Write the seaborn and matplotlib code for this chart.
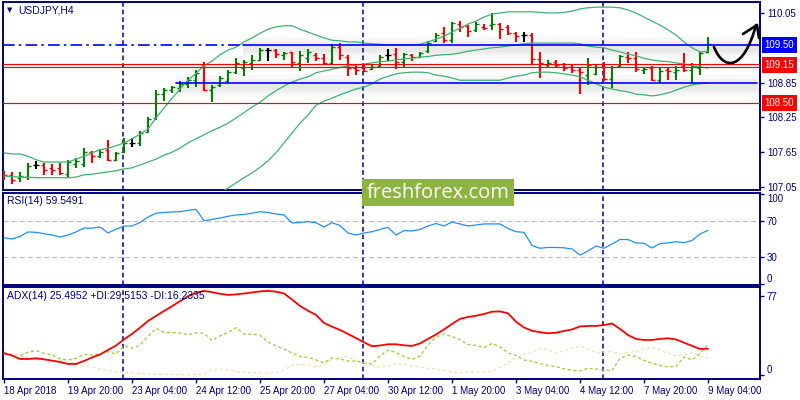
import numpy as np
import pandas as pd
import seaborn as sns
import matplotlib.pyplot as plt
from matplotlib.path import Path
from matplotlib.patches import PathPatch, Rectangle
from matplotlib.transforms import Affine2D

sns.set_style("white")
plt.rcParams["font.family"] = ["Liberation Sans", "DejaVu Sans"]

NAVY = "#000080"

# H4 bars, weekend hours skipped
times = pd.date_range("2018-04-18 12:00", "2018-05-09 04:00", freq="4h")
times = times[times.dayofweek < 5]

open_ = [107.31, 107.26, 107.21, 107.22, 107.43, 107.43, 107.38, 107.38, 107.27, 107.45,
         107.45, 107.65, 107.58, 107.69, 107.52, 107.65, 107.81, 107.81, 108.00, 108.24,
         108.65, 108.72, 108.76, 108.83, 108.89, 109.15, 108.72, 108.81, 108.88, 109.03,
         109.10, 109.19, 109.24, 109.41, 109.41, 109.33, 109.38, 109.19, 109.27, 109.33,
         109.27, 109.19, 109.46, 109.29, 109.10, 109.10, 109.08, 109.14, 109.33, 109.34,
         109.21, 109.33, 109.29, 109.39, 109.57, 109.70, 109.58, 109.86, 109.83, 109.76,
         109.81, 109.84, 109.86, 109.81, 109.70, 109.67, 109.67, 109.26, 109.15, 109.21,
         109.17, 109.12, 109.07, 108.98, 109.00, 109.12, 108.91, 109.14, 109.29, 109.27,
         109.07, 109.10, 108.89, 109.07, 109.03, 109.14, 109.07, 109.10, 109.38]
high = [107.33, 107.31, 107.31, 107.46, 107.50, 107.46, 107.45, 107.46, 107.52, 107.55,
        107.72, 107.67, 107.71, 107.86, 107.65, 107.89, 107.89, 108.02, 108.26, 108.72,
        108.76, 108.79, 108.88, 108.95, 109.07, 109.21, 108.81, 108.96, 109.07, 109.27,
        109.24, 109.33, 109.45, 109.45, 109.43, 109.38, 109.38, 109.39, 109.43, 109.36,
        109.34, 109.52, 109.53, 109.33, 109.15, 109.15, 109.15, 109.33, 109.43, 109.45,
        109.36, 109.34, 109.38, 109.57, 109.70, 109.81, 109.89, 109.91, 109.84, 109.89,
        109.86, 110.05, 109.88, 109.84, 109.72, 109.72, 109.70, 109.38, 109.24, 109.24,
        109.19, 109.15, 109.12, 109.27, 109.15, 109.21, 109.14, 109.33, 109.38, 109.38,
        109.12, 109.14, 109.10, 109.10, 109.14, 109.36, 109.19, 109.38, 109.64]
low = [107.17, 107.10, 107.14, 107.17, 107.36, 107.26, 107.26, 107.26, 107.22, 107.38,
       107.40, 107.46, 107.55, 107.50, 107.50, 107.64, 107.74, 107.76, 108.00, 108.21,
       108.53, 108.67, 108.69, 108.76, 108.77, 108.71, 108.51, 108.77, 108.84, 109.00,
       108.96, 109.07, 109.22, 109.22, 109.27, 109.24, 109.10, 109.05, 109.19, 109.22,
       109.15, 109.15, 109.24, 108.96, 108.98, 109.03, 109.07, 109.12, 109.22, 109.08,
       109.12, 109.22, 109.29, 109.36, 109.55, 109.53, 109.53, 109.72, 109.64, 109.72,
       109.76, 109.76, 109.60, 109.67, 109.55, 109.55, 109.15, 108.93, 109.10, 109.10,
       109.05, 109.02, 108.65, 108.81, 108.98, 108.88, 108.76, 109.12, 109.19, 109.03,
       109.00, 108.88, 108.84, 108.89, 108.89, 109.03, 108.84, 108.98, 109.36]
close = [107.26, 107.17, 107.24, 107.41, 107.43, 107.34, 107.34, 107.29, 107.48, 107.50,
         107.65, 107.58, 107.65, 107.52, 107.64, 107.81, 107.81, 107.98, 108.22, 108.65,
         108.72, 108.77, 108.83, 108.89, 109.02, 108.72, 108.77, 108.93, 109.03, 109.19,
         109.21, 109.24, 109.41, 109.41, 109.34, 109.36, 109.21, 109.33, 109.38, 109.27,
         109.19, 109.46, 109.33, 109.10, 109.07, 109.05, 109.12, 109.29, 109.33, 109.21,
         109.34, 109.29, 109.36, 109.53, 109.67, 109.58, 109.88, 109.81, 109.74, 109.86,
         109.79, 109.86, 109.77, 109.70, 109.65, 109.67, 109.26, 109.19, 109.19, 109.15,
         109.10, 109.07, 109.03, 109.15, 109.12, 108.91, 109.12, 109.31, 109.27, 109.08,
         109.08, 108.89, 109.05, 109.05, 109.07, 109.07, 109.14, 109.36, 109.52]

bb_upper = [107.64, 107.62, 107.62, 107.58, 107.52, 107.48, 107.48, 107.48, 107.48, 107.53,
            107.58, 107.64, 107.69, 107.72, 107.76, 107.81, 107.88, 107.96, 108.05, 108.24,
            108.41, 108.58, 108.74, 108.89, 109.01, 109.14, 109.22, 109.33, 109.41, 109.46,
            109.55, 109.62, 109.70, 109.77, 109.81, 109.83, 109.83, 109.77, 109.72, 109.67,
            109.62, 109.58, 109.57, 109.55, 109.55, 109.53, 109.52, 109.51, 109.50, 109.50,
            109.50, 109.50, 109.51, 109.55, 109.60, 109.65, 109.72, 109.79, 109.86, 109.91,
            109.98, 110.03, 110.05, 110.07, 110.07, 110.07, 110.07, 110.06, 110.05, 110.05,
            110.06, 110.08, 110.12, 110.14, 110.15, 110.15, 110.15, 110.14, 110.10, 110.05,
            109.98, 109.91, 109.84, 109.76, 109.67, 109.55, 109.45, 109.38, 109.39]
bb_middle = [107.24, 107.23, 107.22, 107.22, 107.21, 107.21, 107.21, 107.21, 107.21, 107.22,
             107.26, 107.27, 107.29, 107.31, 107.33, 107.36, 107.38, 107.43, 107.48, 107.53,
             107.60, 107.65, 107.72, 107.81, 107.88, 107.95, 108.02, 108.08, 108.15, 108.24,
             108.33, 108.43, 108.51, 108.62, 108.71, 108.79, 108.86, 108.91, 108.95, 109.02,
             109.05, 109.08, 109.11, 109.14, 109.15, 109.17, 109.19, 109.21, 109.22, 109.24,
             109.26, 109.27, 109.29, 109.30, 109.32, 109.33, 109.34, 109.36, 109.39, 109.41,
             109.43, 109.45, 109.46, 109.48, 109.50, 109.52, 109.53, 109.53, 109.53, 109.53,
             109.53, 109.53, 109.52, 109.48, 109.46, 109.45, 109.41, 109.38, 109.34, 109.31,
             109.27, 109.24, 109.22, 109.21, 109.19, 109.17, 109.14, 109.12, 109.10]
bb_lower = [106.84, 106.84, 106.83, 106.86, 106.90, 106.93, 106.93, 106.93, 106.93, 106.91,
            106.93, 106.91, 106.90, 106.90, 106.90, 106.91, 106.88, 106.88, 106.91, 106.83,
            106.81, 106.77, 106.76, 106.77, 106.79, 106.83, 106.88, 106.95, 107.03, 107.12,
            107.21, 107.29, 107.39, 107.50, 107.64, 107.81, 107.98, 108.15, 108.29, 108.46,
            108.53, 108.58, 108.64, 108.69, 108.74, 108.77, 108.83, 108.91, 108.96, 109.00,
            109.02, 109.03, 109.03, 109.02, 108.98, 108.96, 108.93, 108.89, 108.89, 108.89,
            108.89, 108.89, 108.89, 108.93, 108.96, 108.98, 109.02, 109.03, 109.03, 109.02,
            109.00, 108.98, 108.95, 108.89, 108.83, 108.77, 108.74, 108.71, 108.69, 108.65,
            108.64, 108.62, 108.64, 108.67, 108.72, 108.77, 108.81, 108.83, 108.84]

rsi = [51.4, 50.0, 52.8, 57.8, 57.4, 55.9, 54.4, 52.2, 54.4, 57.8,
       62.2, 62.0, 63.3, 56.7, 60.8, 64.4, 64.4, 68.3, 74.4, 78.6,
       79.4, 80.0, 80.3, 81.7, 83.0, 70.3, 71.7, 73.3, 75.2, 76.7,
       77.2, 78.6, 80.3, 79.4, 77.8, 76.7, 67.8, 68.3, 69.2, 68.1,
       63.3, 68.1, 65.0, 56.7, 54.4, 56.7, 58.1, 60.6, 63.0, 54.4,
       59.4, 58.9, 60.6, 64.4, 67.2, 64.4, 68.9, 66.7, 64.4, 65.6,
       66.7, 66.7, 66.7, 61.7, 58.1, 57.4, 42.8, 39.7, 40.6, 40.6,
       40.2, 38.9, 32.2, 36.7, 42.2, 39.7, 44.4, 49.4, 49.4, 45.6,
       45.2, 40.0, 45.0, 45.6, 47.0, 45.9, 48.3, 55.6, 59.5]

adx = [21.1, 18.9, 15.5, 15.5, 16.2, 15.2, 13.9, 12.6, 10.7, 10.7,
       13.6, 17.0, 19.9, 24.3, 28.6, 34.5, 39.8, 45.9, 52.4, 57.3,
       62.1, 66.7, 71.6, 76.4, 79.6, 81.6, 80.4, 78.8, 77.7, 78.2,
       79.1, 80.1, 81.1, 81.6, 80.9, 79.1, 73.3, 67.0, 62.4, 58.3,
       50.5, 46.9, 43.7, 39.8, 35.9, 31.7, 27.9, 28.6, 29.8, 29.8,
       28.8, 28.2, 30.6, 35.0, 39.3, 44.2, 49.5, 54.4, 56.3, 57.5,
       59.2, 61.4, 61.7, 59.9, 51.7, 46.1, 42.9, 41.5, 40.5, 41.0,
       42.7, 44.2, 47.1, 47.6, 47.6, 48.5, 50.0, 44.7, 38.8, 35.0,
       34.0, 34.0, 35.0, 35.6, 34.5, 31.4, 28.3, 25.2, 25.5]
plus_di = [22.0, 19.1, 18.9, 22.0, 23.6, 21.1, 19.4, 15.5, 14.6, 16.0,
           20.1, 19.4, 20.4, 22.6, 20.4, 28.2, 25.9, 29.1, 37.4, 45.3,
           41.5, 41.2, 40.5, 39.2, 40.8, 40.5, 33.5, 37.9, 41.1, 45.9,
           39.8, 39.5, 38.8, 32.0, 28.2, 25.2, 21.4, 18.0, 17.2, 14.6,
           11.7, 16.5, 15.5, 13.6, 13.6, 11.7, 10.7, 18.4, 24.3, 21.7,
           18.0, 15.2, 18.4, 29.1, 36.9, 39.8, 37.2, 34.3, 29.6, 28.6,
           26.7, 30.6, 27.2, 21.4, 18.9, 14.6, 13.1, 11.0, 9.2, 8.1,
           6.0, 4.4, 4.0, 6.5, 5.8, 4.9, 4.2, 16.2, 19.4, 18.0,
           14.1, 11.4, 9.2, 7.8, 8.1, 17.5, 14.6, 20.4, 29.5]
minus_di = [22.6, 20.4, 17.8, 16.2, 14.6, 14.6, 14.3, 13.9, 13.3, 10.7,
            8.7, 7.5, 5.5, 4.5, 3.2, 2.3, 1.9, 1.6, 1.0, 0.6,
            0.5, 0.4, 0.4, 0.3, 0.3, 1.0, 4.9, 5.8, 4.9, 3.2,
            2.9, 2.2, 1.9, 1.6, 2.2, 4.9, 9.7, 10.0, 9.7, 7.8,
            9.7, 15.2, 16.8, 17.8, 14.6, 11.4, 9.0, 7.5, 9.0, 11.0,
            10.4, 8.7, 7.5, 6.5, 5.8, 4.5, 2.6, 1.9, 3.2, 2.9,
            2.6, 4.2, 7.5, 11.9, 16.8, 20.1, 22.0, 25.9, 24.3, 21.1,
            23.6, 26.2, 28.2, 25.0, 21.7, 22.0, 22.6, 20.4, 21.7, 23.0,
            25.0, 26.9, 24.3, 21.1, 18.4, 19.4, 21.7, 18.7, 16.2]

df = pd.DataFrame({"time": times, "open": open_, "high": high, "low": low, "close": close,
                   "bb_upper": bb_upper, "bb_middle": bb_middle, "bb_lower": bb_lower,
                   "rsi": rsi, "adx": adx, "plus_di": plus_di, "minus_di": minus_di})
df["i"] = np.arange(len(df))

W, H = 800, 400
fig = plt.figure(figsize=(8, 4), dpi=100)
px = Affine2D().scale(1, -1).translate(0, H)


def frame(l, t, r, b):
    return fig.add_axes([l / W, 1 - b / H, (r - l) / W, (b - t) / H])


ax = frame(2.5, 2.3, 760, 190)
ax_rsi = frame(2.5, 192.7, 760, 285)
ax_adx = frame(2.5, 287.3, 760, 379.3)

XMIN, XMAX = -0.19, 94.5
for a in (ax, ax_rsi, ax_adx):
    a.set_xlim(XMIN, XMAX)
    for s in a.spines.values():
        s.set_color(NAVY)
        s.set_linewidth(1.4)
    a.yaxis.tick_right()
    a.tick_params(axis="y", left=False, right=True, direction="out", length=3, width=1,
                  color=NAVY, labelcolor=NAVY, labelsize=7, pad=2)
    a.tick_params(axis="x", bottom=False, labelbottom=False)

# week separators
mondays = df.i[(df.time.dt.dayofweek == 0) & (df.time.dt.hour == 0)]
for a in (ax, ax_rsi, ax_adx):
    for m in mondays:
        a.axvline(m - 0.125, color=NAVY, lw=1.1, ls=(0, (3, 2)), zorder=2)

# price panel: OHLC bars
cols = np.where(df.close > df.open, "#008000", np.where(df.close < df.open, "#ff0000", "black"))
ax.vlines(df.i, df.low, df.high, colors=cols, lw=1.5, zorder=3)
ax.hlines(df.open, df.i - 0.4, df.i, colors=cols, lw=1.0, zorder=3)
ax.hlines(df.close, df.i, df.i + 0.4, colors=cols, lw=1.0, zorder=3)

for col in ["bb_upper", "bb_middle", "bb_lower"]:
    sns.lineplot(data=df, x="i", y=col, ax=ax, color="#3cb371", lw=0.9, zorder=4)

# drawn levels
for y0, x0 in [(109.50, 29.9), (108.84, 21.5)]:
    for w, al in [(16, 0.05), (10, 0.06), (5, 0.07)]:
        ax.plot([x0, XMAX], [y0 - 0.05, y0 - 0.05], color="gray", lw=w, alpha=al,
                solid_capstyle="butt", zorder=1)
ax.plot([XMIN, 29.9], [109.50, 109.50], color="#0000ff", lw=1.2, dashes=(7, 2.5, 1.5, 2.5), zorder=5)
ax.plot([29.9, XMAX], [109.50, 109.50], color="#0000ff", lw=1.2, zorder=5)
ax.plot([21.5, 94.1], [108.84, 108.84], color="#0000ff", lw=1.2, zorder=5)
for lvl in [109.165, 109.12, 108.505]:
    ax.axhline(lvl, color="#ff0000", lw=0.85, zorder=5)

ax.set_ylim(106.998, 110.234)
ax.set_yticks([107.05, 107.65, 108.25, 108.85, 110.05])
ax.yaxis.set_major_formatter("{x:.2f}")
for lvl, c in [(109.50, "#0000ff"), (109.15, "#ff0000"), (108.50, "#ff0000")]:
    ax.text(1.006, lvl, f"{lvl:.2f}", transform=ax.get_yaxis_transform(), ha="left", va="center",
            color="white", fontsize=7, clip_on=False, zorder=10,
            bbox=dict(boxstyle="square,pad=0.3", fc=c, ec="none"))

# RSI panel
sns.lineplot(data=df, x="i", y="rsi", ax=ax_rsi, color="#1e90ff", lw=0.9, zorder=4)
for lvl in [70, 30]:
    ax_rsi.axhline(lvl, color="#c0c0c0", lw=0.9, ls=(0, (4, 2.5)), zorder=1)
ax_rsi.set_ylim(-1.1, 101.4)
ax_rsi.set_yticks([0, 30, 70, 100], labels=["0", "30", "70", "100"])
ax_rsi.get_yticklabels()[0].set_va("bottom")
ax_rsi.get_yticklabels()[3].set_va("top")

# ADX panel
sns.lineplot(data=df, x="i", y="adx", ax=ax_adx, color="#ff0000", lw=1.3, zorder=4)
sns.lineplot(data=df, x="i", y="plus_di", ax=ax_adx, color="#9acd32", lw=0.9,
             linestyle=(0, (2.5, 2)), zorder=3)
sns.lineplot(data=df, x="i", y="minus_di", ax=ax_adx, color="#f5deb3", lw=0.9,
             linestyle=(0, (2.5, 2)), zorder=3)
ax_adx.set_ylim(-4.2, 85.1)
ax_adx.set_yticks([0, 77], labels=["0", "77"])
ax_adx.get_yticklabels()[0].set_va("bottom")

ticks = df.iloc[::8]
labels = [f"{t.day} {t:%b} {t.year}" if k == 0 else f"{t.day} {t:%b %H:%M}"
          for k, t in enumerate(ticks.time)]
ax_adx.set_xticks(ticks.i, labels=labels)
ax_adx.tick_params(axis="x", bottom=True, labelbottom=True, direction="out", length=3, width=1,
                   color=NAVY, labelcolor=NAVY, labelsize=7, pad=1.5)
for lab in ax_adx.get_xticklabels():
    lab.set_ha("left")

for a in (ax, ax_rsi, ax_adx):
    a.set_xlabel("")
    a.set_ylabel("")

# panel captions
fig.text(7, 10.5, "\u25bc", transform=px, ha="left", va="center", color=NAVY, fontsize=5,
         family="DejaVu Sans")
fig.text(18, 10.5, "USDJPY,H4", transform=px, ha="left", va="center", color=NAVY, fontsize=7.5)
fig.text(7, 201.5, "RSI(14) 59.5491", transform=px, ha="left", va="center", color=NAVY, fontsize=7.5)
fig.text(7, 296, "ADX(14) 25.4952 +DI:29.5153 -DI:16.2335", transform=px, ha="left",
         va="center", color=NAVY, fontsize=7.5)

# watermark
fig.add_artist(Rectangle((362, 179), 152, 27, transform=px, fc="#8db440", ec="none", zorder=10))
fig.text(438, 192.5, "freshforex.com", transform=px, ha="center", va="center", color="white",
         fontsize=14.5, family="Open Sans", zorder=11)

# hand-drawn arrow
curve = Path([(714, 47), (724, 72), (744, 70), (756, 25)],
             [Path.MOVETO, Path.CURVE4, Path.CURVE4, Path.CURVE4])
head = Path([(743, 34), (757, 25), (759, 38)], [Path.MOVETO, Path.LINETO, Path.LINETO])
for p in (curve, head):
    fig.add_artist(PathPatch(p, transform=px, fill=False, ec="black", lw=1.9,
                             capstyle="round", joinstyle="round", zorder=12))

fig.savefig("out.png", dpi=100)
